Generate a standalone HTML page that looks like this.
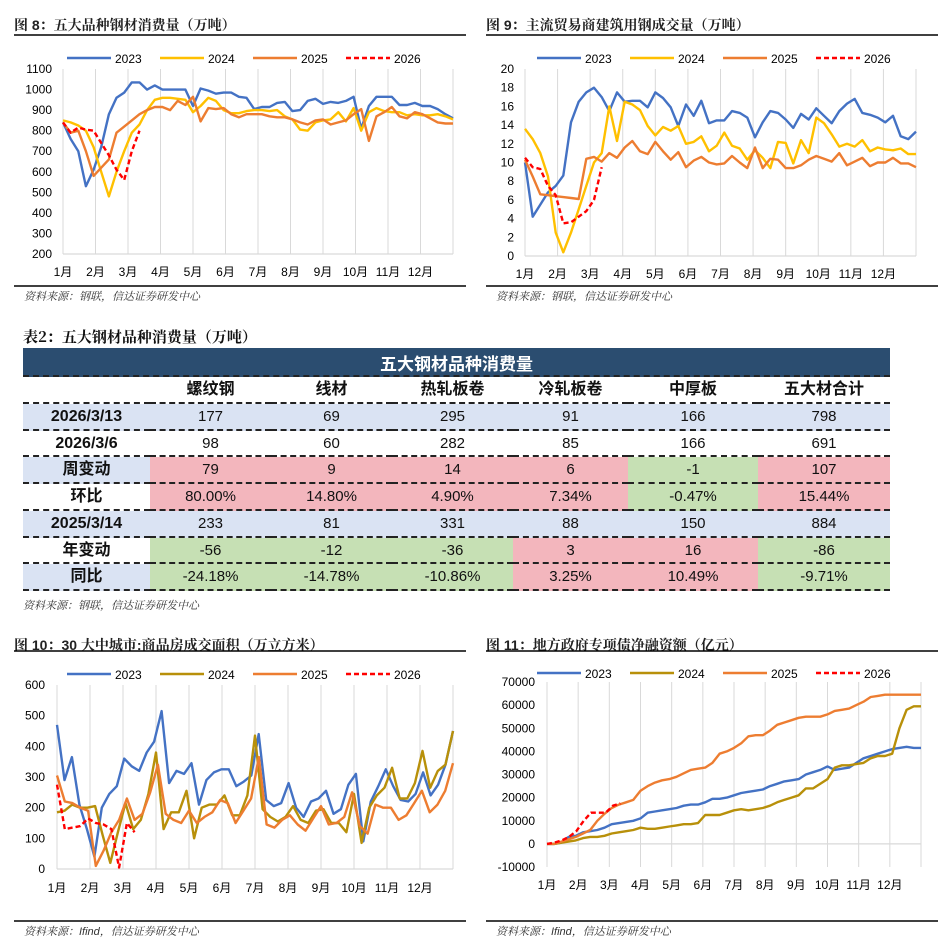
<!DOCTYPE html>
<html><head><meta charset="utf-8">
<style>
body{margin:0;background:#fff;width:944px;height:946px;overflow:hidden;position:relative;font-family:"Liberation Sans","Noto Sans CJK SC",sans-serif;}
svg{position:absolute;left:0;top:0}
.tbl{position:absolute;left:23px;top:348px;width:867px;display:grid;grid-template-columns:127px 121px 121px 121px 115px 130px 132px;font-family:"Liberation Sans Narrow","Liberation Sans","Noto Sans CJK SC",sans-serif;}
.hd{grid-column:1/8;height:29px;background:#2b4d70;color:#fff;font-weight:bold;font-size:17px;line-height:29px;text-align:center;font-family:"Noto Sans CJK SC",sans-serif;border-bottom:2px dashed #222;box-sizing:border-box}
.c{height:26.75px;line-height:25px;text-align:center;font-size:15px;color:#111;border-bottom:2px dashed #222;box-sizing:border-box}
.b{font-weight:bold;font-size:16px}
.bl{background:#dae3f3}.pk{background:#f3b6bd}.gr{background:#c6e0b4}
.tt{position:absolute;left:23px;top:326px;font-size:15px;font-weight:bold;font-family:"Noto Serif CJK SC",serif;color:#111}
.src{position:absolute;left:23px;top:597px;font-size:11px;font-style:italic;font-family:"Noto Serif CJK SC",serif;color:#333}
</style></head><body>
<svg id="s" width="944" height="946"></svg>
<div class="tt">表2：五大钢材品种消费量（万吨）</div>
<div class="tbl">
<div class="hd">五大钢材品种消费量</div>
<div class="c b"></div><div class="c b">螺纹钢</div><div class="c b">线材</div><div class="c b">热轧板卷</div><div class="c b">冷轧板卷</div><div class="c b">中厚板</div><div class="c b">五大材合计</div>
<div class="c b bl">2026/3/13</div><div class="c bl">177</div><div class="c bl">69</div><div class="c bl">295</div><div class="c bl">91</div><div class="c bl">166</div><div class="c bl">798</div>
<div class="c b">2026/3/6</div><div class="c">98</div><div class="c">60</div><div class="c">282</div><div class="c">85</div><div class="c">166</div><div class="c">691</div>
<div class="c b bl">周变动</div><div class="c pk">79</div><div class="c pk">9</div><div class="c pk">14</div><div class="c pk">6</div><div class="c gr">-1</div><div class="c pk">107</div>
<div class="c b">环比</div><div class="c pk">80.00%</div><div class="c pk">14.80%</div><div class="c pk">4.90%</div><div class="c pk">7.34%</div><div class="c gr">-0.47%</div><div class="c pk">15.44%</div>
<div class="c b bl">2025/3/14</div><div class="c bl">233</div><div class="c bl">81</div><div class="c bl">331</div><div class="c bl">88</div><div class="c bl">150</div><div class="c bl">884</div>
<div class="c b">年变动</div><div class="c gr">-56</div><div class="c gr">-12</div><div class="c gr">-36</div><div class="c pk">3</div><div class="c pk">16</div><div class="c gr">-86</div>
<div class="c b bl">同比</div><div class="c gr">-24.18%</div><div class="c gr">-14.78%</div><div class="c gr">-10.86%</div><div class="c pk">3.25%</div><div class="c pk">10.49%</div><div class="c gr">-9.71%</div>
</div>
<div class="src">资料来源：钢联，信达证券研发中心</div>
<script>
const months=["1月","2月","3月","4月","5月","6月","7月","8月","9月","10月","11月","12月"];
const legendNames=["2023","2024","2025","2026"];
const c8Ticks=[200,300,400,500,600,700,800,900,1000,1100];
const c8_2023=[840,760,700,530,610,720,880,960,985,1035,1035,1000,1020,1000,1000,1000,1000,920,1005,995,980,985,985,965,960,905,915,915,935,940,895,900,945,955,930,940,935,945,965,810,920,965,965,965,925,925,935,920,920,905,880,860];
const c8_2024=[850,840,825,800,720,600,480,600,700,790,830,900,950,960,960,955,950,890,920,960,945,900,885,885,895,900,900,895,900,870,855,805,800,840,850,855,890,845,910,800,890,910,895,890,890,875,880,875,875,880,870,855];
const c8_2025=[840,790,800,700,580,620,660,790,820,850,880,900,915,915,900,945,925,965,845,910,905,910,880,865,880,880,880,870,865,865,855,840,830,850,855,830,840,850,880,905,750,870,890,915,870,860,890,880,860,840,835,835];
const c8_2026=[840,790,815,805,800,740,680,610,560,700,800];
const c9Ticks=[0,2,4,6,8,10,12,14,16,18,20];
const c9_2023=[10,4.2,5.5,6.8,7.5,8.6,14.3,16.5,17.5,18,17,15.5,17.5,16.5,16.6,16.6,15.9,17.5,16.9,15.9,13.9,16.2,15,16.6,14.2,14.5,14.5,15.5,15.3,14.8,12.7,14.3,15.5,15.3,14.6,13.7,15.2,14.6,15.8,15,14.2,15.5,16.3,16.8,15.3,15.1,14.8,14.3,15,12.8,12.5,13.3];
const c9_2024=[13.6,12.5,11,8.5,2.5,0.4,2.5,5,7.5,10,11,16,12.3,16.5,16.2,15.6,13.9,12.9,13.8,13.4,13.9,12,12.2,12.8,11.2,11.8,13.2,11.8,11.5,10.3,11.3,10.5,9.4,12.2,12.1,9.9,12.4,11,14.8,14.2,13,11.7,12,11.7,12.4,11.2,11.6,11.4,11.3,11.5,10.9,10.9];
const c9_2025=[10.3,8.5,6.6,6.5,6.4,6.3,6.2,6.1,10.4,10.6,10.1,11,10.5,11.6,12.3,11.2,10.9,12.2,11.2,10.3,11.1,9.5,10.2,10.6,10,9.8,9.9,10.7,10,9.4,11.6,9.4,10.4,10.3,9.4,9.4,9.7,10.3,10.7,10.4,10.1,11,9.7,10.1,10.5,9.6,10,10,10.5,9.9,9.9,9.5];
const c9_2026=[10.5,9.5,9.3,7.5,6.5,3.5,3.6,4.2,4.8,6,9.5];
const c10Ticks=[0,100,200,300,400,500,600];
const c10_2023=[470,290,365,210,130,40,200,245,270,360,335,320,380,415,515,280,320,310,345,210,290,315,325,325,270,285,305,440,225,205,215,280,200,170,220,230,255,180,195,275,310,90,220,270,325,270,225,220,245,315,240,275,340,450];
const c10_2024=[185,190,210,200,200,205,110,20,120,215,130,160,245,380,130,185,185,255,100,200,210,210,240,175,175,240,435,195,170,155,170,205,160,150,190,195,150,150,120,245,85,200,240,265,330,230,230,280,385,265,320,340,450];
const c10_2025=[305,220,215,200,190,10,60,120,160,230,160,180,250,340,180,160,150,190,150,170,185,225,215,150,190,230,365,145,135,160,175,145,125,165,205,145,150,170,250,140,115,210,200,200,160,175,215,255,185,210,255,345];
const c10_2026=[275,130,135,140,165,150,145,130,5,150,120];
const c11Ticks=[-10000,0,10000,20000,30000,40000,50000,60000,70000];
const c11_2023=[0,0,500,3000,3500,5000,5500,6000,7000,8500,9000,9500,10000,11000,13500,14000,14500,15000,15500,16500,17000,17000,18000,19500,19500,20000,21000,22000,22500,23000,23500,25000,26000,27000,27500,28000,30000,31000,32000,33500,32000,32500,33000,35000,37000,38000,39000,40000,41000,41500,42000,41500,41500];
const c11_2024=[0,0,500,1000,1500,2500,3000,3000,3500,4500,5000,5500,6000,7000,6500,6500,7000,7500,8000,8500,8500,9000,12500,12500,12500,13500,14500,15000,14500,15000,15500,16500,18000,19000,20000,21000,24000,24000,26000,28000,33000,34000,34000,34500,35000,37000,38000,38000,39000,50000,58000,59500,59500];
const c11_2025=[0,0,1000,2000,3000,4500,6000,10000,13000,15500,17000,18000,19000,23000,25000,26500,27500,28000,29000,30500,32000,32500,33000,35000,39000,40000,41500,43500,46500,47000,47000,49000,51500,52500,53500,54500,55000,55000,55000,56000,57500,58000,58500,60000,61500,63500,64000,64500,64500,64500,64500,64500,64500];
const c11_2026=[0,500,1500,3000,5500,10000,13500,13500,13500,16500,17500];

const NS="http://www.w3.org/2000/svg";
const svg=document.getElementById('s');
function mk(tag,attrs,parent){const e=document.createElementNS(NS,tag);for(const k in attrs)e.setAttribute(k,attrs[k]);(parent||svg).appendChild(e);return e;}
function txt(x,y,s,attrs){const e=mk('text',Object.assign({x:x,y:y},attrs||{}));e.textContent=s;return e;}

function chart(o){
  const g=mk('g',{});
  
  
  const W=o.right-o.left;
  const ys=v=>o.bottom-(v-o.ymin)/(o.ymax-o.ymin)*(o.bottom-o.top);
  // title & rules
  const t=txt(o.ox+14,o.oy+30,o.title,{'font-size':'14','font-weight':'bold','font-family':'"Liberation Sans","Noto Serif CJK SC",serif',fill:'#222'});
  
  
  g.appendChild(t);
  const r1=mk('line',{x1:o.ox+14,x2:o.ox+466,y1:o.ruleTop,y2:o.ruleTop,stroke:'#000','stroke-width':1.6},g);
  
  
  const r2=mk('line',{x1:o.ox+14,x2:o.ox+466,y1:o.ruleBot,y2:o.ruleBot,stroke:'#000','stroke-width':1.6},g);
  
  
  const s=txt(o.ox+24,o.ruleBot+14,o.source,{'font-size':'11','font-style':'italic','font-family':'"Liberation Sans","Noto Serif CJK SC",serif',fill:'#333'});
  
  
  g.appendChild(s);
  // grid
  for(let k=0;k<=12;k++){
    const x=o.left+k*W/12;
    const gl=mk('line',{x1:x,x2:x,y1:o.top,y2:o.bottom,stroke:'#d9d9d9','stroke-width':1},g);
    
    
    if(k<12){
      const ml=txt(x,o.xLabY,months[k],{'font-size':'12','text-anchor':'middle',fill:'#000'});
      
      
      g.appendChild(ml);
    }
  }
  const ax=mk('line',{x1:o.left,x2:o.right,y1:ys(o.axisAt),y2:ys(o.axisAt),stroke:'#d9d9d9','stroke-width':1.2},g);
  
  
  o.ticks.forEach(v=>{
    const tl=txt(o.tickRight,ys(v)+4,String(v),{'font-size':'12','text-anchor':'end',fill:'#000'});
    
    
    g.appendChild(tl);
  });
  // series
  o.series.forEach((se,si)=>{
    const n=se.vals.length;
    const step=se.partial?W/51:W/(n-1);
    const pts=se.vals.map((v,i)=>(o.left+i*step).toFixed(1)+','+ys(v).toFixed(1)).join(' ');
    const pl=mk('polyline',{points:pts,fill:'none',stroke:se.color,'stroke-width':2.4,'stroke-linejoin':'round','stroke-dasharray':se.partial?'5,3':'none'},g);
    
    
    const lx=o.legX+si*93;
    const ll=mk('line',{x1:lx,x2:lx+44,y1:o.legY,y2:o.legY,stroke:se.color,'stroke-width':2.4,'stroke-dasharray':se.partial?'5,3':'none'},g);
    
    
    const lt=txt(lx+48,o.legY+5,legendNames[si],{'font-size':'12',fill:'#000'});
    
    
    g.appendChild(lt);
  });
}
const BL='#4472c4',YL='#ffc000',OR='#ed7d31',RD='#ff0000',GD='#b8900a';
chart({name:'chart-steel-consumption',title:'图 8：五大品种钢材消费量（万吨）',source:'资料来源：钢联，信达证券研发中心',ox:0,oy:0,ruleTop:35,ruleBot:286,left:63,right:453,top:69,bottom:254,ymin:200,ymax:1100,axisAt:200,ticks:c8Ticks,tickRight:52,xLabY:276,legX:67,legY:58,
 series:[{vals:c8_2023,color:BL},{vals:c8_2024,color:YL},{vals:c8_2025,color:OR},{vals:c8_2026,color:RD,partial:true}]});
chart({name:'chart-rebar-trade',title:'图 9：主流贸易商建筑用钢成交量（万吨）',source:'资料来源：钢联，信达证券研发中心',ox:472,oy:0,ruleTop:35,ruleBot:286,left:525,right:916,top:69,bottom:256,ymin:0,ymax:20,axisAt:0,ticks:c9Ticks,tickRight:514,xLabY:278,legX:537,legY:58,
 series:[{vals:c9_2023,color:BL},{vals:c9_2024,color:YL},{vals:c9_2025,color:OR},{vals:c9_2026,color:RD,partial:true}]});
chart({name:'chart-housing-sales',title:'图 10：30 大中城市:商品房成交面积（万立方米）',source:'资料来源：Ifind，信达证券研发中心',ox:0,oy:620,ruleTop:651,ruleBot:921,left:57,right:453,top:685,bottom:869,ymin:0,ymax:600,axisAt:0,ticks:c10Ticks,tickRight:45,xLabY:892,legX:67,legY:674,
 series:[{vals:c10_2023,color:BL},{vals:c10_2024,color:GD},{vals:c10_2025,color:OR},{vals:c10_2026,color:RD,partial:true}]});
chart({name:'chart-special-bonds',title:'图 11：地方政府专项债净融资额（亿元）',source:'资料来源：Ifind，信达证券研发中心',ox:472,oy:620,ruleTop:651,ruleBot:921,left:547,right:921,top:682,bottom:867,ymin:-10000,ymax:70000,axisAt:0,ticks:c11Ticks,tickRight:535,xLabY:889,legX:537,legY:673,
 series:[{vals:c11_2023,color:BL},{vals:c11_2024,color:GD},{vals:c11_2025,color:OR},{vals:c11_2026,color:RD,partial:true}]});
</script>
</body></html>
